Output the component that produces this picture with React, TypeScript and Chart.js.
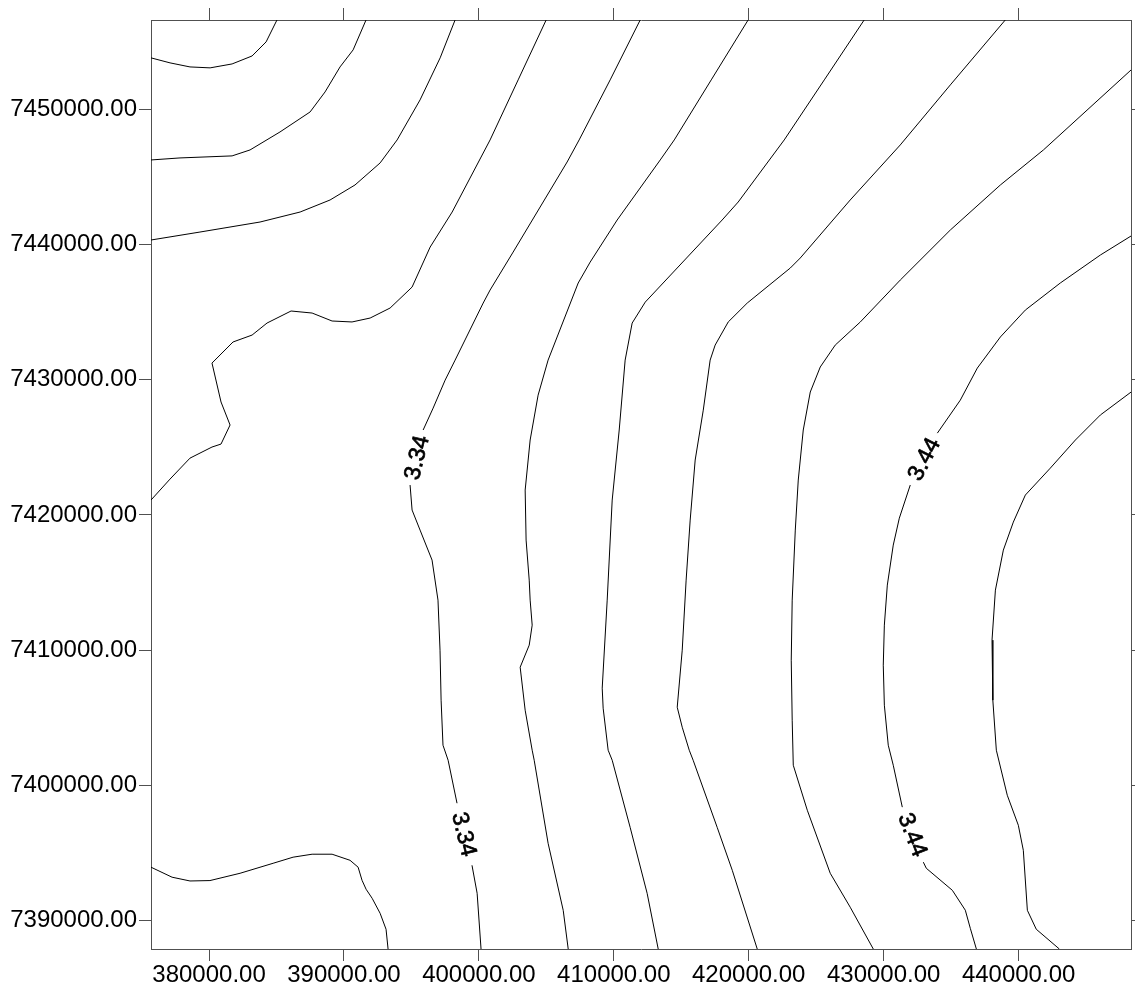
import React, { useEffect, useRef } from "react";
import { Chart, registerables } from "chart.js";

Chart.register(...registerables);

// Axis ranges and tick values (easting / northing)
const xRange = [375700, 448330];
const yRange = [7387900, 7456600];
const xTickValues = [380000, 390000, 400000, 410000, 420000, 430000, 440000];
const yTickValues = [7390000, 7400000, 7410000, 7420000, 7430000, 7440000, 7450000];

// Contour polylines as [easting, northing]
const contour1 = [[375700,7453800],[377110,7453430],[378590,7453130],[380080,7453060],[381710,7453350],[383190,7453940],[384230,7454980],[385040,7456610]];
const contour2 = [[375700,7446250],[377850,7446400],[381710,7446550],[383040,7446990],[385260,7448320],[387490,7449800],[388600,7451280],[389710,7453130],[390680,7454390],[391640,7456610]];
const contour3 = [[375700,7440330],[379330,7440920],[383780,7441660],[386750,7442400],[388970,7443290],[390820,7444400],[392680,7446030],[393940,7447730],[395640,7450690],[397130,7453800],[398240,7456610]];
const contour4 = [[375700,7421100],[377110,7422650],[378590,7424200],[380220,7425020],[380890,7425240],[381560,7426650],[380890,7428350],[380220,7431230],[381780,7432790],[383190,7433300],[384300,7434190],[386080,7435080],[387640,7434930],[389120,7434340],[390600,7434270],[391940,7434560],[393420,7435300],[395050,7436850],[396390,7439810],[398020,7442400],[400830,7447730],[402910,7452170],[404990,7456610]];
const contour5 = [[411960,7456610],[409730,7452170],[407430,7447730],[406540,7446100],[402540,7439440],[400830,7436630],[400320,7435670],[398240,7431450],[397500,7429970],[396610,7427900],[395870,7426280],[394900,7422210],[395050,7420360],[395640,7418880],[396530,7416660],[396970,7413700],[397120,7410000],[397200,7406300],[397340,7402970],[397720,7401860],[398380,7398680],[399490,7394090],[399870,7392020],[400160,7387900]];
const contour6 = [[419960,7456610],[417220,7452170],[414480,7447730],[413440,7446250],[410250,7441810],[408250,7438700],[407360,7437150],[405130,7431450],[404390,7428860],[403800,7425540],[403430,7421840],[403500,7418140],[403730,7415180],[403800,7413700],[403950,7411850],[403730,7410370],[403060,7408740],[403430,7405560],[403950,7402600],[404100,7401860],[405130,7395720],[406250,7390760],[406620,7387900]];
const contour7 = [[428560,7456610],[425600,7452170],[422630,7447730],[419220,7443140],[418030,7441810],[412330,7435740],[411360,7434190],[410840,7431450],[410400,7426280],[409880,7421100],[409510,7413700],[409140,7407190],[409210,7405710],[409580,7402600],[409880,7401860],[411210,7396900],[412470,7392020],[413290,7387900]];
const contour8 = [[439020,7456610],[434940,7451800],[431230,7447360],[427520,7443290],[423820,7439000],[423080,7438260],[419890,7435670],[418480,7434270],[417510,7432560],[417140,7431450],[416630,7427750],[416030,7424060],[415660,7419620],[415360,7415180],[415070,7410000],[414700,7405780],[415070,7404300],[415590,7402600],[415880,7401860],[417660,7396900],[418780,7393720],[420630,7387900]];
const contour9 = [[448340,7452910],[441840,7446990],[438650,7444400],[434940,7441070],[431230,7437370],[428270,7434270],[426410,7432560],[425300,7430940],[424560,7429090],[424040,7426280],[423670,7422580],[423450,7418880],[423220,7413700],[423150,7409260],[423220,7404820],[423300,7401490],[424340,7398160],[426040,7393500],[427520,7390990],[429230,7387900]];
const contour10 = [[448340,7440630],[446060,7439220],[443090,7437150],[440500,7435150],[438650,7433160],[436940,7430860],[435680,7428490],[433980,7426050],[431970,7422210],[431160,7419760],[430710,7417770],[430270,7414810],[430050,7411850],[429970,7408890],[430050,7405930],[430340,7402970],[430710,7401490],[431380,7398390],[432940,7394320],[433160,7393870],[435090,7392240],[436050,7390770],[436420,7389430],[436870,7387900]];
const contour11 = [[448340,7429090],[446060,7427390],[444210,7425540],[442350,7423460],[440500,7421470],[439610,7419470],[438870,7417400],[438280,7414440],[438030,7410740],[438090,7406300],[438350,7402600],[439160,7399270],[439980,7397050],[440350,7395200],[440650,7390760],[441310,7389360],[443020,7387900]];
const contour12 = [[375700,7393950],[377260,7393210],[378590,7392930],[380070,7392960],[382300,7393500],[384750,7394240],[386230,7394690],[387640,7394910],[389120,7394910],[390450,7394460],[391050,7393950],[391340,7392980],[391640,7392320],[392090,7391650],[392680,7390540],[393120,7389360],[393270,7387900]];

const contours = [contour1, contour2, contour3, contour4, contour5, contour6, contour7, contour8, contour9, contour10, contour11, contour12];

// Contour labels: which contour, which segment (index of first point) carries the label
const labelTexts = ["3.34", "3.34", "3.44", "3.44"];
const labelContours = [4, 4, 9, 9];
const labelSegments = [10, 20, 7, 17];

const FONT = '"Liberation Sans", Arial, Helvetica, sans-serif';
const AXIS_COLOR = "#505050";

const isLabelSegment = (ci: number, idx: number) =>
  labelContours.some((c, i) => c === ci && labelSegments[i] === idx);

const contourLabelPlugin = {
  id: "contourLabels",
  afterDatasetsDraw(chart: any) {
    const { ctx, scales } = chart;
    const xs = scales.x;
    const ys = scales.y;
    ctx.save();
    ctx.font = `23px ${FONT}`;
    ctx.fillStyle = "#000";
    ctx.strokeStyle = "#000";
    ctx.lineWidth = 0.7;
    ctx.textAlign = "center";
    ctx.textBaseline = "middle";
    labelTexts.forEach((text, i) => {
      const pts = contours[labelContours[i]];
      const a = pts[labelSegments[i]];
      const b = pts[labelSegments[i] + 1];
      const ax = xs.getPixelForValue(a[0]);
      const ay = ys.getPixelForValue(a[1]);
      const bx = xs.getPixelForValue(b[0]);
      const by = ys.getPixelForValue(b[1]);
      let dx = bx - ax;
      let dy = by - ay;
      if (dx < 0) {
        dx = -dx;
        dy = -dy;
      }
      const ang = Math.atan2(dy, dx);
      ctx.save();
      ctx.translate((ax + bx) / 2, (ay + by) / 2);
      ctx.rotate(ang);
      ctx.fillText(text, 0, 1);
      ctx.strokeText(text, 0, 1);
      ctx.restore();
    });
    ctx.restore();
  },
};

export default function App() {
  const canvasRef = useRef<HTMLCanvasElement | null>(null);

  useEffect(() => {
    if (!canvasRef.current) return;
    const datasets = contours.map((pts, ci) => ({
      data: pts.map((p) => ({ x: p[0], y: p[1] })),
      showLine: true,
      borderColor: "#000",
      borderWidth: 1,
      pointRadius: 0,
      tension: 0,
      xAxisID: "x",
      yAxisID: "y",
      segment: {
        borderColor: (c: any) => (isLabelSegment(ci, c.p0DataIndex) ? "rgba(0,0,0,0)" : "#000"),
      },
    }));

    const tickFont = { family: FONT, size: 24 };
    const grid = { drawOnChartArea: false, drawTicks: true, tickLength: 12, color: AXIS_COLOR, lineWidth: 1 };
    const border = { display: true, color: AXIS_COLOR, width: 1 };
    const setX = (s: any) => { s.ticks = xTickValues.map((v) => ({ value: v })); };
    const setY = (s: any) => { s.ticks = yTickValues.map((v) => ({ value: v })); };

    const chart = new Chart(canvasRef.current, {
      type: "scatter",
      data: { datasets },
      options: {
        animation: false,
        responsive: false,
        devicePixelRatio: 1,
        maintainAspectRatio: false,
        layout: { padding: 0 },
        plugins: { legend: { display: false }, tooltip: { enabled: false } },
        events: [],
        scales: {
          x: {
            type: "linear",
            position: "bottom",
            min: xRange[0],
            max: xRange[1],
            afterBuildTicks: setX,
            afterFit: (s: any) => { s.height = 41; },
            ticks: { callback: (v: any) => Number(v).toFixed(2), font: tickFont, color: "#000", padding: 0, maxRotation: 0, autoSkip: false },
            grid,
            border,
          },
          xTop: {
            type: "linear",
            position: "top",
            min: xRange[0],
            max: xRange[1],
            afterBuildTicks: setX,
            afterFit: (s: any) => { s.height = 20; },
            ticks: { display: false },
            grid,
            border,
          },
          y: {
            type: "linear",
            position: "left",
            min: yRange[0],
            max: yRange[1],
            afterBuildTicks: setY,
            afterFit: (s: any) => { s.width = 151; },
            ticks: { callback: (v: any) => Number(v).toFixed(2), font: tickFont, color: "#000", padding: 2, autoSkip: false },
            grid,
            border,
          },
          yRight: {
            type: "linear",
            position: "right",
            min: yRange[0],
            max: yRange[1],
            afterBuildTicks: setY,
            afterFit: (s: any) => { s.width = 4; },
            ticks: { display: false },
            grid,
            border,
          },
        },
      } as any,
      plugins: [contourLabelPlugin],
    });
    return () => chart.destroy();
  }, []);

  return (
    <div style={{ position: "absolute", left: 0, top: 0, width: 1135, height: 990, background: "#fff" }}>
      <canvas ref={canvasRef} width={1135} height={990} style={{ display: "block" }} />
    </div>
  );
}
